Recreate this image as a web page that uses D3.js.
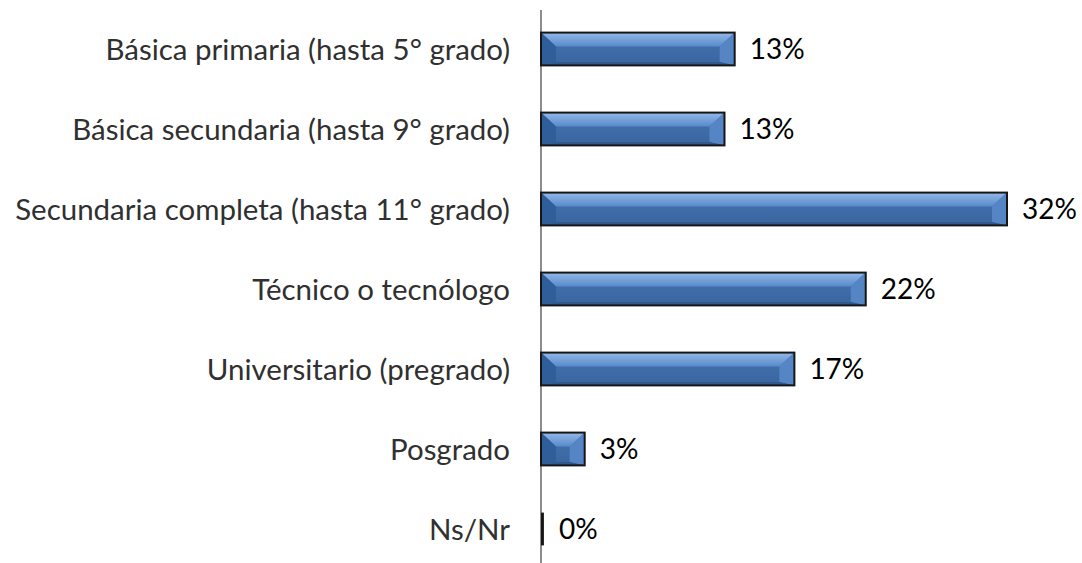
<!DOCTYPE html>
<html><head><meta charset="utf-8">
<script src="https://cdn.jsdelivr.net/npm/d3@7"></script>
<style>html,body{margin:0;padding:0;background:#fff;}</style>
</head><body>
<svg id="c" width="1082" height="563"></svg>
<script>
const categories = [
  "Básica primaria (hasta 5° grado)",
  "Básica secundaria (hasta 9° grado)",
  "Secundaria completa (hasta 11° grado)",
  "Técnico o tecnólogo",
  "Universitario (pregrado)",
  "Posgrado",
  "Ns/Nr"
];
const values = [13.3, 12.6, 32.0, 22.3, 17.4, 3.0, 0.2];
const valueLabels = ["13%", "13%", "32%", "22%", "17%", "3%", "0%"];

const svg = d3.select("#c");
const W = 1082, H = 563;
const x0 = 541;
const x = d3.scaleLinear().domain([0, 32]).range([x0, 1007]);
const y = d3.scaleBand().domain(categories).range([9, 569]).paddingInner(0.59).paddingOuter(0.295);
const FONT = "Lato, 'Open Sans', sans-serif";

const defs = svg.append("defs");
const gTop = defs.append("linearGradient").attr("id","gTop").attr("x1",0).attr("y1",0).attr("x2",0).attr("y2",1);
gTop.append("stop").attr("offset","0%").attr("stop-color","#94b9e8");
gTop.append("stop").attr("offset","100%").attr("stop-color","#5a8acb");
const gMid = defs.append("linearGradient").attr("id","gMid").attr("x1",0).attr("y1",0).attr("x2",0).attr("y2",1);
gMid.append("stop").attr("offset","0%").attr("stop-color","#4373b1");
gMid.append("stop").attr("offset","100%").attr("stop-color","#3a669f");

// axis line
svg.append("line").attr("x1",x0).attr("x2",x0).attr("y1",10).attr("y2",H)
  .attr("stroke","#8c8c8c").attr("stroke-width",2);

const bars = svg.append("g").selectAll("g").data(categories).join("g");
bars.each(function(c, i){
  const g = d3.select(this);
  const X0 = x(0), X1 = x(values[i]);
  const Y0 = y(c), h = y.bandwidth(), Y1 = Y0 + h;
  const w = X1 - X0;
  const b = Math.min(15, w/2), t = h*0.42, bb = h*0.1;
  const ix0 = X0 + b, ix1 = X1 - b, iy0 = Y0 + t, iy1 = Y1 - bb;
  const P = pts => pts.map(p => p.join(",")).join(" ");
  if (w > 4) {
    g.append("rect").attr("x",X0).attr("y",Y0).attr("width",w).attr("height",h).attr("fill","url(#gMid)");
    g.append("polygon").attr("points",P([[X0,Y0],[X1,Y0],[ix1,iy0],[ix0,iy0]])).attr("fill","url(#gTop)");
    g.append("polygon").attr("points",P([[X0,Y0],[ix0,iy0],[ix0,iy1],[X0,Y1]])).attr("fill","#2f5e98");
    g.append("polygon").attr("points",P([[X1,Y0],[X1,Y1],[ix1,iy1],[ix1,iy0]])).attr("fill","#5585c5");
    g.append("polygon").attr("points",P([[X0,Y1],[ix0,iy1],[ix1,iy1],[X1,Y1]])).attr("fill","#30598e");
    g.append("rect").attr("x",X0).attr("y",Y0).attr("width",w).attr("height",h)
      .attr("fill","none").attr("stroke","#161616").attr("stroke-width",2);
  } else {
    g.append("rect").attr("x",X0).attr("y",Y0).attr("width",Math.max(w,2.5)).attr("height",h).attr("fill","#161616");
  }
  g.append("text").attr("x", X1 + 15).attr("y", Y0 + h/2).attr("dy","0.36em")
    .attr("font-family",FONT).attr("font-size",28)
    .attr("fill","#000").text(valueLabels[i]);
});

// category labels
const labels = svg.append("g").selectAll("text").data(categories).join("text")
  .attr("x", 510).attr("y", d => y(d) + y.bandwidth()/2).attr("dy","0.36em")
  .attr("text-anchor","end").attr("fill","#303030")
  .attr("font-family",FONT).attr("font-size",24)
  .text(d => d);
// fit longest label to reference width
let maxW = 0; labels.each(function(){ maxW = Math.max(maxW, this.getComputedTextLength()); });
const fs = 24 * 495 / maxW;
labels.attr("font-size", fs);
</script>
</body></html>
